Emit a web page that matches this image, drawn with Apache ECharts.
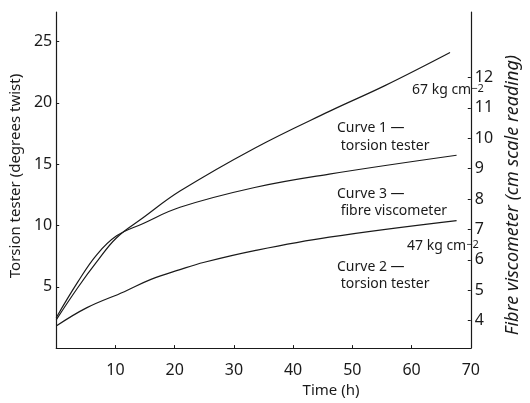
<!DOCTYPE html>
<html>
<head>
<meta charset="utf-8">
<script src="https://cdn.jsdelivr.net/npm/echarts@6/dist/echarts.min.js"></script>
<style>
  html, body { margin: 0; padding: 0; background: #fff; }
  #chart { width: 530px; height: 403px; }
</style>
</head>
<body>
<div id="chart"></div>
<script>
// curve 1 - torsion tester, 67 kg cm-2 (left axis)
const curve1Time = [0, 3.6, 6.8, 10.2, 14.6, 20.9, 33.5, 46.1, 55.5, 66.5];
const curve1Twist = [2.3, 4.9, 7.0, 9.0, 10.6, 12.8, 16.3, 19.3, 21.4, 24.1];
// curve 2 - torsion tester, 47 kg cm-2 (left axis)
const curve2Time = [0, 5.2, 11.5, 16, 20.9, 25, 33.5, 46.1, 67.6];
const curve2Twist = [1.8, 3.3, 4.6, 5.6, 6.4, 7.0, 7.95, 9.05, 10.4];
// curve 3 - fibre viscometer (right axis)
const curve3Time = [0, 3.6, 6.8, 10.2, 14.6, 20.9, 33.5, 46.1, 67.6];
const curve3Reading = [4.1, 5.26, 6.16, 6.79, 7.19, 7.73, 8.38, 8.82, 9.44];

const leftTicks = [5, 10, 15, 20, 25];
const rightTicks = [4, 5, 6, 7, 8, 9, 10, 11, 12];

const pairs = (xs, ys) => xs.map((x, i) => [x, ys[i]]);
const font = '"Noto Sans", "DejaVu Sans", sans-serif';
const ink = '#1a1a1a';

const chart = echarts.init(document.getElementById('chart'));

const lineSeries = (name, xs, ys, yIdx) => ({
  name: name,
  type: 'line',
  yAxisIndex: yIdx,
  data: pairs(xs, ys),
  smooth: 0.4,
  showSymbol: false,
  lineStyle: { color: ink, width: 1.2 },
  silent: true
});

// superscript for the "cm-2" labels
const sup = { n: { fontSize: 14, fontFamily: font }, s: { fontSize: 11, fontFamily: font, verticalAlign: 'top' } };

chart.setOption({
  animation: false,
  grid: { left: 47, right: 38, top: 12, bottom: 37 },
  xAxis: {
    type: 'value',
    min: 0, max: 70, interval: 10,
    name: 'Time (h)',
    nameLocation: 'middle',
    nameGap: 23,
    nameTextStyle: { color: ink, fontSize: 15, fontFamily: font, padding: [0, 0, 0, 135] },
    axisLine: { lineStyle: { color: ink, width: 1.2 } },
    axisTick: { inside: true, length: 3, lineStyle: { color: ink } },
    axisLabel: { color: ink, fontSize: 16, fontFamily: font, margin: 14, showMinLabel: false },
    splitLine: { show: false }
  },
  yAxis: [
    {
      type: 'value',
      position: 'left',
      min: 0, max: 27.4,
      name: 'Torsion tester (degrees twist)',
      nameLocation: 'middle',
      nameRotate: 90,
      nameGap: 26,
      nameTextStyle: { color: ink, fontSize: 15, fontFamily: font, padding: [0, 0, 0, 8] },
      axisLine: { show: true, lineStyle: { color: ink, width: 1.2 } },
      axisTick: { inside: true, length: 3, customValues: leftTicks, lineStyle: { color: ink } },
      axisLabel: { color: ink, fontSize: 16, fontFamily: font, margin: 4, customValues: leftTicks },
      splitLine: { show: false }
    },
    {
      type: 'value',
      position: 'right',
      min: 3.1, max: 14.15,
      name: 'Fibre viscometer (cm scale reading)',
      nameLocation: 'middle',
      nameRotate: 90,
      nameGap: 23,
      nameTextStyle: { color: ink, fontSize: 18, fontFamily: font, fontStyle: 'italic', padding: [0, 30, 0, 0] },
      axisLine: { show: true, lineStyle: { color: ink, width: 1.2 } },
      axisTick: { inside: true, length: 3, customValues: rightTicks, lineStyle: { color: ink } },
      axisLabel: { color: ink, fontSize: 16, fontFamily: font, margin: 4, customValues: rightTicks },
      splitLine: { show: false }
    }
  ],
  series: [
    lineSeries('Curve 1', curve1Time, curve1Twist, 0),
    lineSeries('Curve 2', curve2Time, curve2Twist, 0),
    lineSeries('Curve 3', curve3Time, curve3Reading, 1)
  ],
  graphic: {
    elements: [
      { type: 'text', left: 412, top: 83, style: {
        text: '{n|67 kg cm}{s|−2}', fill: ink, font: '14px ' + font, rich: sup } },
      { type: 'text', left: 337, top: 119, style: {
        text: 'Curve 1 —\n torsion tester', fill: ink, font: '14px ' + font, lineHeight: 18 } },
      { type: 'text', left: 337, top: 186, style: {
        text: 'Curve 3 —\n fibre viscometer', fill: ink, font: '14px ' + font, lineHeight: 17 } },
      { type: 'text', left: 407, top: 239, style: {
        text: '{n|47 kg cm}{s|−2}', fill: ink, font: '14px ' + font, rich: sup } },
      { type: 'text', left: 337, top: 259, style: {
        text: 'Curve 2 —\n torsion tester', fill: ink, font: '14px ' + font, lineHeight: 17 } }
    ]
  }
});
</script>
</body>
</html>
